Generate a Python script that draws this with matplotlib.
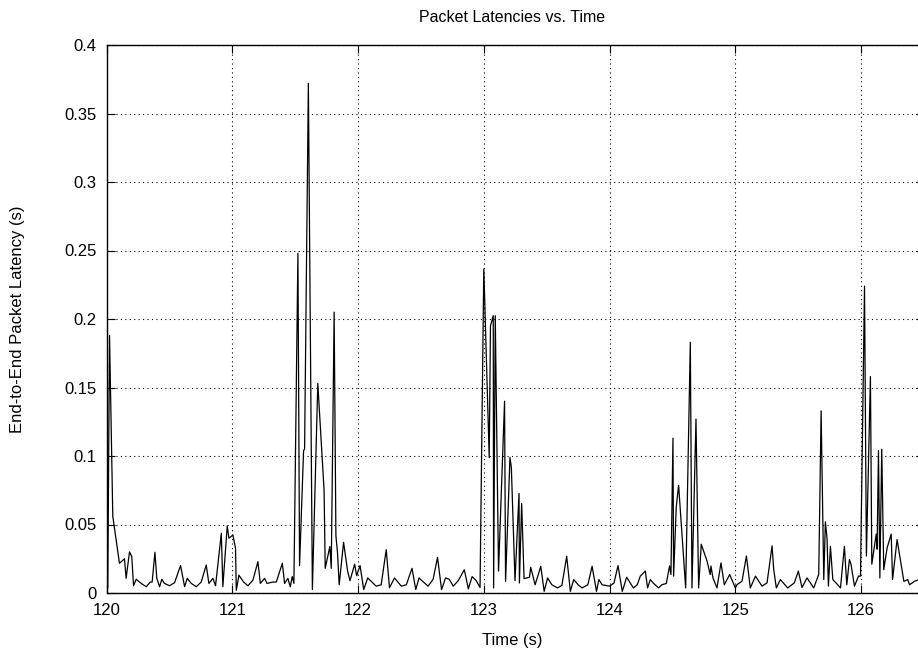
import matplotlib
matplotlib.use("Agg")
import matplotlib.pyplot as plt
from matplotlib.ticker import FormatStrFormatter, FuncFormatter

plt.rcParams['font.family'] = ['Liberation Sans', 'DejaVu Sans']

# packet send time (s) and end-to-end latency (s)
times = [
    120.010, 120.024, 120.050, 120.103, 120.143, 120.156, 120.183, 120.201, 120.215, 120.236,
    120.276, 120.316, 120.348, 120.363, 120.385, 120.400, 120.422, 120.440, 120.461, 120.501,
    120.541, 120.589, 120.621, 120.642, 120.674, 120.714, 120.753, 120.793, 120.814, 120.846,
    120.867, 120.913, 120.925, 120.960, 120.973, 121.005, 121.026, 121.032, 121.053, 121.090,
    121.124, 121.164, 121.204, 121.223, 121.257, 121.276, 121.323, 121.350, 121.398, 121.416,
    121.442, 121.461, 121.477, 121.490,
    # burst around 121.6
    121.522, 121.535, 121.567, 121.575, 121.605, 121.637, 121.680, 121.730, 121.739, 121.776,
    121.787, 121.810, 121.824, 121.837, 121.850, 121.885, 121.917, 121.936, 121.973, 121.989,
    122.016, 122.045, 122.077, 122.110, 122.144, 122.184, 122.224, 122.250, 122.290, 122.344,
    122.384, 122.429, 122.459, 122.485, 122.520, 122.557, 122.597, 122.632, 122.664, 122.696,
    122.725, 122.757, 122.797, 122.845, 122.877, 122.907, 122.940, 122.970,
    # burst at 123
    123.000, 123.043, 123.053, 123.075, 123.078, 123.091, 123.117, 123.165, 123.173, 123.208,
    123.219, 123.248, 123.280, 123.283, 123.301, 123.320, 123.363, 123.373, 123.408, 123.453,
    123.480, 123.507, 123.541, 123.587, 123.621, 123.659, 123.688, 123.715, 123.750, 123.781,
    123.827, 123.861, 123.896, 123.915, 123.941, 124.000, 124.035, 124.067, 124.101, 124.136,
    124.189, 124.220, 124.244,
    # burst around 124.6
    124.284, 124.302, 124.324, 124.350, 124.390, 124.416, 124.451, 124.477, 124.488, 124.504,
    124.509, 124.530, 124.549, 124.576, 124.605, 124.642, 124.655, 124.687, 124.708, 124.729,
    124.775, 124.800, 124.806, 124.822, 124.854, 124.886, 124.912, 124.955, 125.000, 125.013,
    125.053, 125.088, 125.119, 125.160, 125.212, 125.252, 125.292, 125.305, 125.326, 125.358,
    # bursts at 125.7 and 126
    125.416, 125.469, 125.501, 125.530, 125.570, 125.623, 125.663, 125.682, 125.703, 125.716,
    125.729, 125.740, 125.756, 125.775, 125.814, 125.836, 125.867, 125.886, 125.907, 125.920,
    125.947, 125.979, 125.995, 126.027, 126.042, 126.074, 126.085, 126.120, 126.127, 126.138,
    126.149, 126.164, 126.180, 126.207, 126.239, 126.250, 126.286, 126.340, 126.371, 126.385,
    126.425, 126.462,
]

latency = [
    0.0040, 0.1880, 0.0560, 0.0217, 0.0250, 0.0107, 0.0300, 0.0265, 0.0053, 0.0100,
    0.0070, 0.0046, 0.0080, 0.0080, 0.0297, 0.0107, 0.0046, 0.0100, 0.0070, 0.0053,
    0.0075, 0.0200, 0.0046, 0.0107, 0.0070, 0.0046, 0.0080, 0.0204, 0.0070, 0.0107,
    0.0053, 0.0436, 0.0046, 0.0490, 0.0400, 0.0423, 0.0326, 0.0020, 0.0130, 0.0080,
    0.0053, 0.0093, 0.0229, 0.0070, 0.0107, 0.0070, 0.0080, 0.0080, 0.0217, 0.0070,
    0.0107, 0.0046, 0.0120, 0.0070,
    0.2480, 0.0200, 0.1040, 0.1050, 0.3720, 0.0025, 0.1530, 0.0750, 0.0180, 0.0340,
    0.0180, 0.2050, 0.0420, 0.0290, 0.0060, 0.0370, 0.0160, 0.0090, 0.0210, 0.0126,
    0.0200, 0.0025, 0.0110, 0.0080, 0.0050, 0.0060, 0.0316, 0.0038, 0.0110, 0.0050,
    0.0060, 0.0180, 0.0025, 0.0110, 0.0080, 0.0050, 0.0100, 0.0260, 0.0025, 0.0110,
    0.0100, 0.0050, 0.0090, 0.0170, 0.0030, 0.0120, 0.0090, 0.0040,
    0.2366, 0.0988, 0.1950, 0.2024, 0.0037, 0.2024, 0.0160, 0.1400, 0.0085, 0.0990,
    0.0915, 0.0090, 0.0727, 0.0073, 0.0654, 0.0105, 0.0115, 0.0188, 0.0060, 0.0195,
    0.0012, 0.0110, 0.0060, 0.0037, 0.0056, 0.0268, 0.0012, 0.0098, 0.0060, 0.0037,
    0.0060, 0.0195, 0.0012, 0.0098, 0.0060, 0.0050, 0.0073, 0.0200, 0.0012, 0.0115,
    0.0037, 0.0060, 0.0123,
    0.0160, 0.0037, 0.0098, 0.0070, 0.0037, 0.0061, 0.0069, 0.0197, 0.0135, 0.1130,
    0.0123, 0.0627, 0.0786, 0.0430, 0.0037, 0.1830, 0.0037, 0.1270, 0.0037, 0.0356,
    0.0233, 0.0135, 0.0197, 0.0110, 0.0037, 0.0220, 0.0060, 0.0135, 0.0037, 0.0061,
    0.0086, 0.0270, 0.0037, 0.0123, 0.0050, 0.0074, 0.0344, 0.0172, 0.0037, 0.0098,
    0.0037, 0.0074, 0.0160, 0.0040, 0.0110, 0.0037, 0.0135, 0.1330, 0.0098, 0.0520,
    0.0400, 0.0050, 0.0340, 0.0098, 0.0060, 0.0037, 0.0340, 0.0060, 0.0245, 0.0208,
    0.0050, 0.0123, 0.0123, 0.2240, 0.0270, 0.1580, 0.0210, 0.0430, 0.0320, 0.1040,
    0.0110, 0.1050, 0.0170, 0.0330, 0.0430, 0.0098, 0.0390, 0.0085, 0.0098, 0.0060,
    0.0086, 0.0098,
]

assert len(times) == len(latency)

xticks = [120, 121, 122, 123, 124, 125, 126]
yticks = [0, 0.05, 0.1, 0.15, 0.2, 0.25, 0.3, 0.35, 0.4]

fig = plt.figure(figsize=(9.18, 6.6), dpi=100)
# right border sits just past the edge of the picture, like the original
ax = fig.add_axes([106.5 / 918, 67 / 660, (924 - 106.5) / 918, 548 / 660])

ax.plot(times, latency, color='black', lw=0.9)

ax.set_xlim(120, 126.5)
ax.set_ylim(0, 0.4)
ax.set_xticks(xticks)
ax.set_yticks(yticks)
ax.yaxis.set_major_formatter(FuncFormatter(lambda v, p: '%g' % round(v, 3)))
ax.xaxis.set_major_formatter(FormatStrFormatter('%d'))
ax.tick_params(direction='in', top=True, right=True, length=6, width=0.8,
               labelsize=12, pad=7)
ax.grid(True, linestyle=(0, (1, 3)), color='black', lw=0.8)
for s in ax.spines.values():
    s.set_linewidth(1.0)

fig.text(512 / 918, 1 - 17 / 660, 'Packet Latencies vs. Time', ha='center', va='center', fontsize=11.5)
fig.text(512 / 918, 1 - 640 / 660, 'Time (s)', ha='center', va='center', fontsize=12)
fig.text(18 / 918, 1 - 319 / 660, 'End-to-End Packet Latency (s)', ha='center', va='center',
         rotation=90, fontsize=12)

fig.savefig('out.png', dpi=100)
